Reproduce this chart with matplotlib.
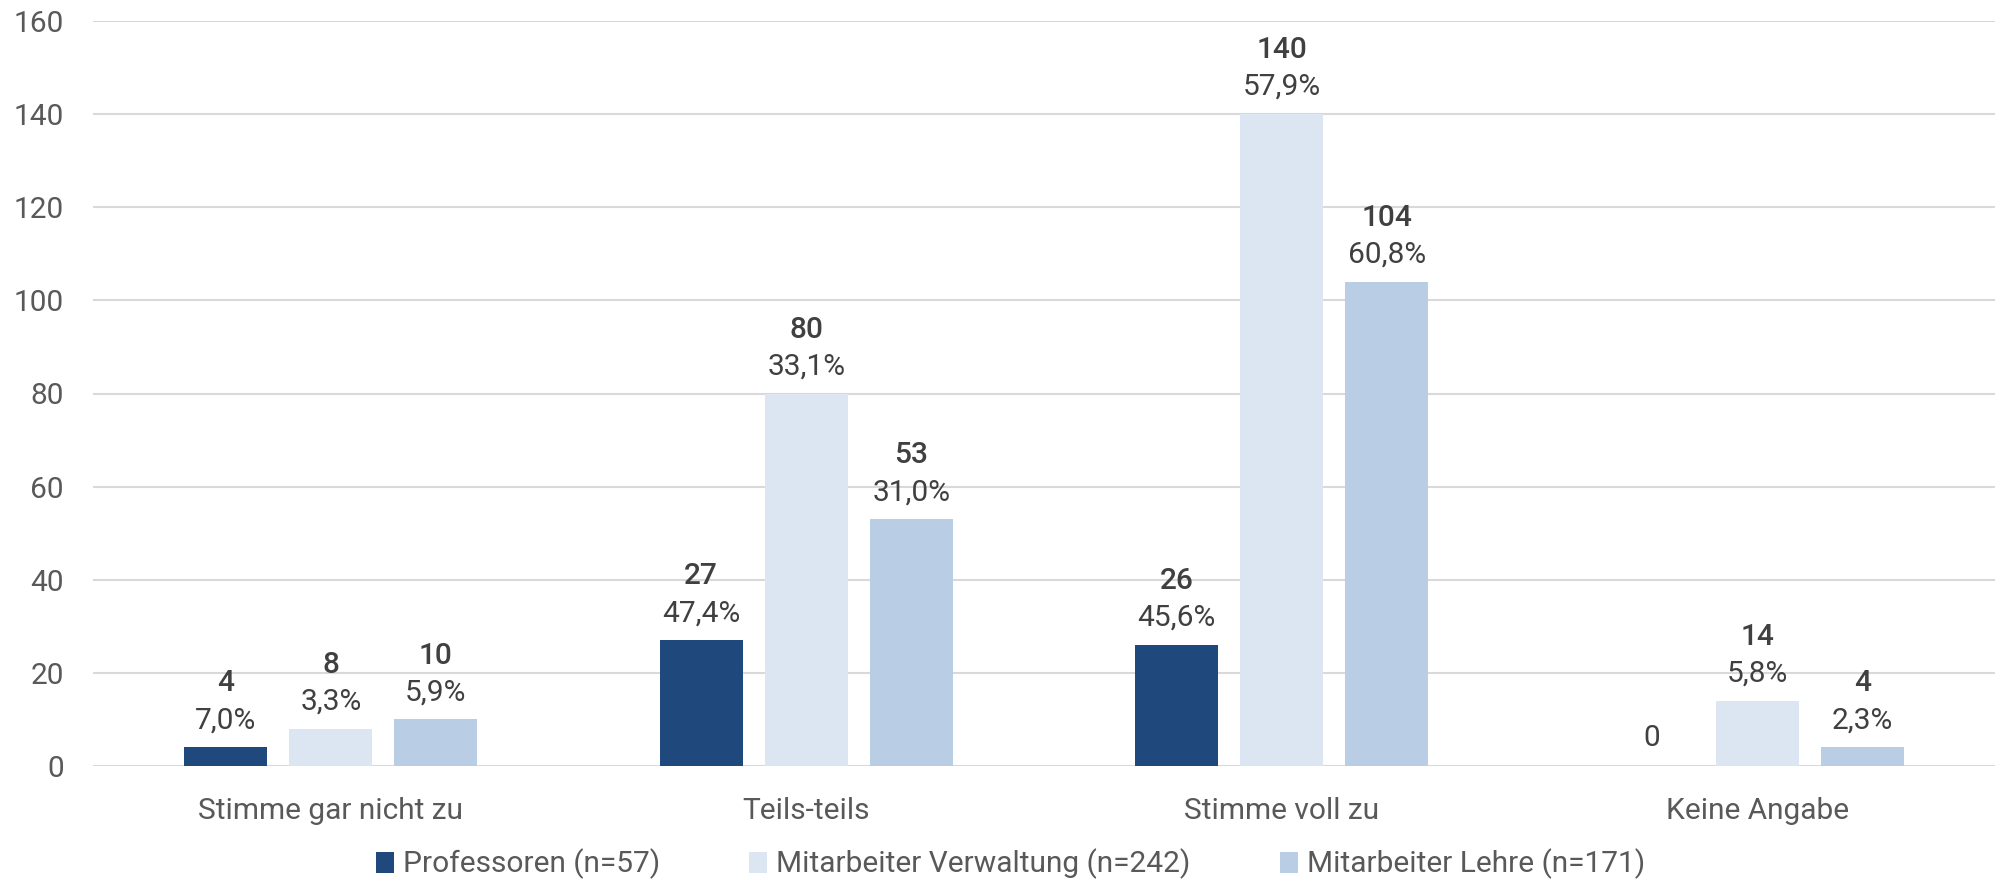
import matplotlib
matplotlib.use("Agg")
import matplotlib.pyplot as plt
import numpy as np

categories = ["Stimme gar nicht zu", "Teils-teils", "Stimme voll zu", "Keine Angabe"]
series_names = ["Professoren (n=57)", "Mitarbeiter Verwaltung (n=242)", "Mitarbeiter Lehre (n=171)"]
professoren = [4, 27, 26, 0]
verwaltung = [8, 80, 140, 14]
lehre = [10, 53, 104, 4]
pct_professoren = ["7,0%", "47,4%", "45,6%", ""]
pct_verwaltung = ["3,3%", "33,1%", "57,9%", "5,8%"]
pct_lehre = ["5,9%", "31,0%", "60,8%", "2,3%"]
colors = ["#1F497D", "#DCE6F2", "#B9CDE5"]
yticks = [0, 20, 40, 60, 80, 100, 120, 140, 160]

plt.rcParams['font.family'] = ['Roboto', 'DejaVu Sans']

fig = plt.figure(figsize=(20.01, 8.82), dpi=100)
W, H = 2001, 882
left, right, top, bottom = 93, 1995, 21, 766
ax = fig.add_axes([left / W, 1 - bottom / H, (right - left) / W, (bottom - top) / H])

x = np.arange(len(categories))
bw = 0.175
step = 0.221
series = [professoren, verwaltung, lehre]
pcts = [pct_professoren, pct_verwaltung, pct_lehre]
for i, (vals, pc, col, name) in enumerate(zip(series, pcts, colors, series_names)):
    pos = x + (i - 1) * step
    ax.bar(pos, vals, width=bw, color=col, label=name, zorder=3)
    for xp, v, p in zip(pos, vals, pc):
        if v == 0:
            ax.annotate(str(v), (xp, v), xytext=(0, 20), textcoords='offset points',
                        ha='center', va='center', fontsize=21.5, color='#404040')
            continue
        ax.annotate(p, (xp, v), xytext=(0, 19.5), textcoords='offset points',
                    ha='center', va='center', fontsize=21.5, color='#404040')
        ax.annotate(str(v), (xp, v), xytext=(0, 46), textcoords='offset points',
                    ha='center', va='center', fontsize=21.5, color='#404040', fontweight='medium')

ax.set_xlim(-0.5, 3.5)
ax.set_ylim(0, 160)
ax.set_yticks(yticks)
ax.set_xticks(x)
ax.set_xticklabels(categories)
ax.tick_params(axis='both', length=0, labelsize=21.5, labelcolor='#595959')
ax.tick_params(axis='x', pad=22)
ax.tick_params(axis='y', pad=21)
ax.grid(axis='y', color='#D9D9D9', linewidth=1.5, zorder=0)
for s in ax.spines.values():
    s.set_visible(False)

fig.legend(loc='center', bbox_to_anchor=(0.505, 1 - 864 / H), ncol=3, frameon=False,
           fontsize=21.5, labelcolor='#595959', handlelength=0.6, handleheight=0.7,
           handletextpad=0.3, columnspacing=3.0)

fig.savefig("out.png", dpi=100)
